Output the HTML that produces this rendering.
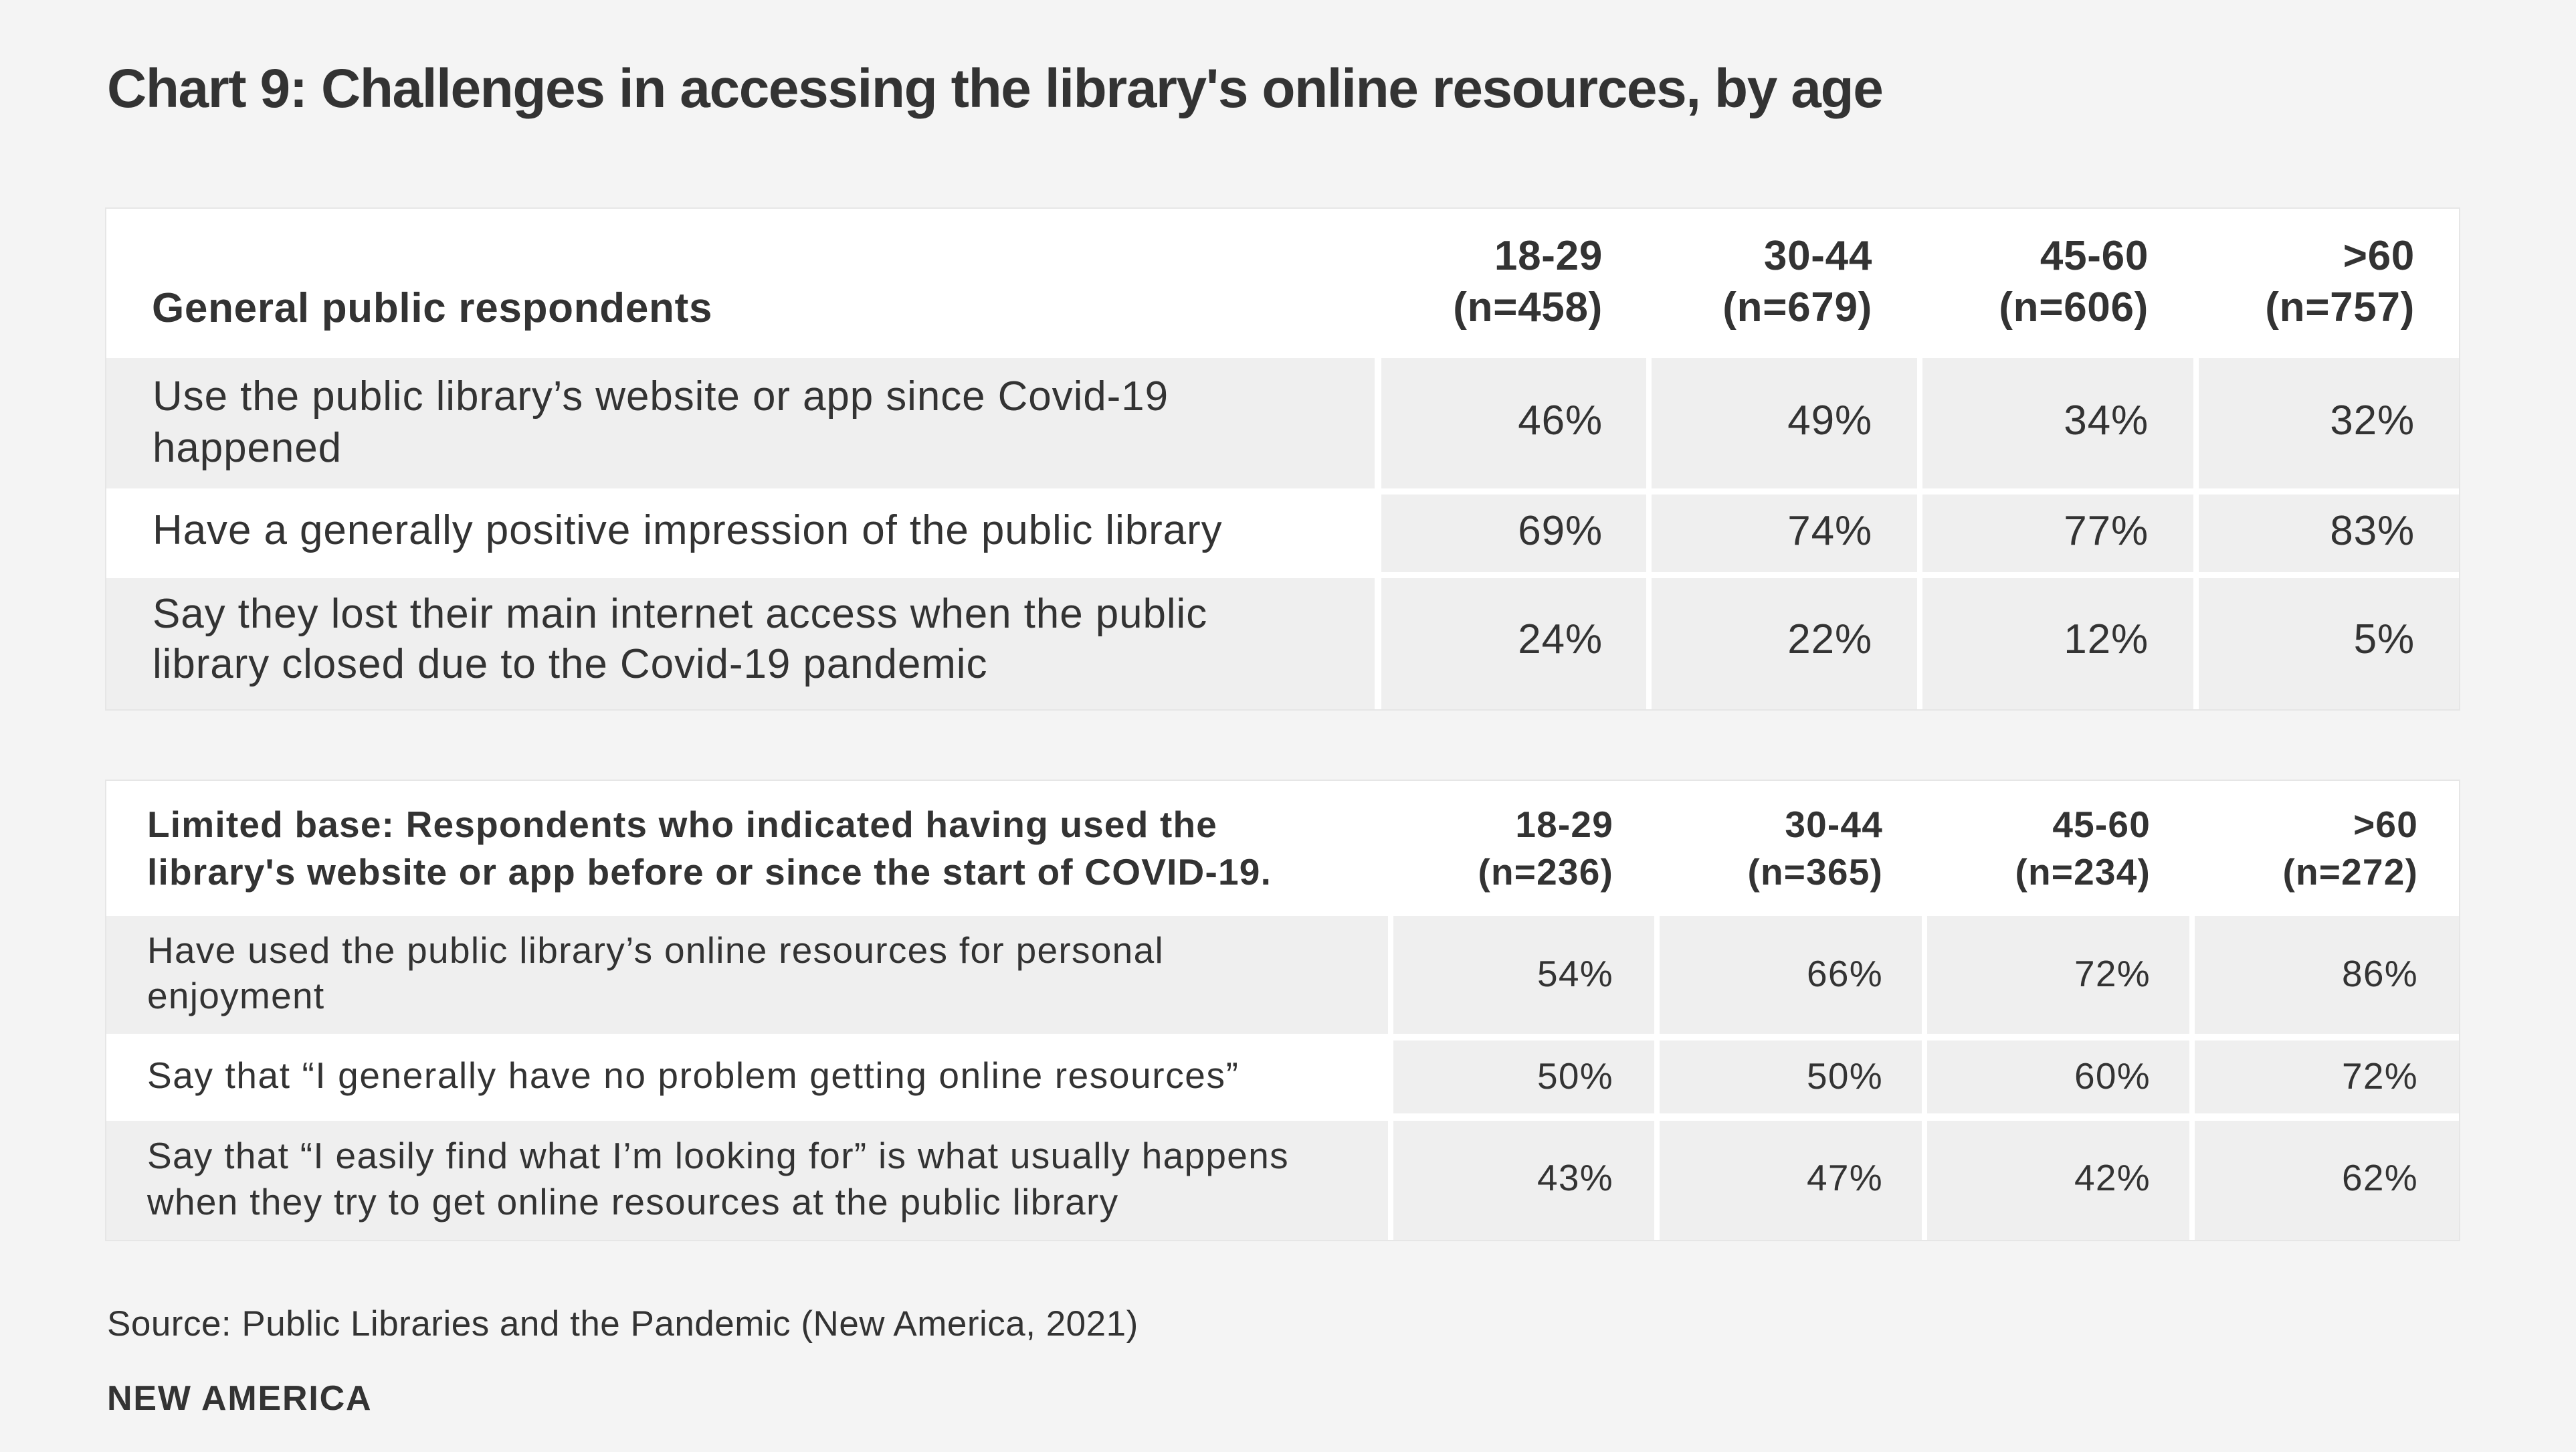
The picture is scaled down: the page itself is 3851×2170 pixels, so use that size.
<!DOCTYPE html>
<html>
<head>
<meta charset="utf-8">
<style>
html,body{margin:0;padding:0;}
body{width:3851px;height:2170px;background:#f4f4f4;position:relative;overflow:hidden;font-family:"Liberation Sans",Arial,sans-serif;color:#333333;}
.a{position:absolute;white-space:nowrap;}
.box{position:absolute;background:#ffffff;box-shadow:0 0 0 2px #e6e6e6;}
.g{position:absolute;background:#efefef;}
.t1{font-size:62px;line-height:77px;letter-spacing:0.9px;}
.t1b{font-size:62px;line-height:77px;font-weight:bold;letter-spacing:0.7px;}
.t2{font-size:55px;line-height:69px;letter-spacing:1.3px;}
.t2b{font-size:55px;line-height:71px;font-weight:bold;letter-spacing:1.2px;}
.r{text-align:right;}
</style>
</head>
<body>
<div class="a" style="left:160px;top:83px;font-size:82px;line-height:100px;font-weight:bold;letter-spacing:-1.4px;">Chart 9: Challenges in accessing the library's online resources, by age</div>

<!-- Table 1 -->
<div class="box" style="left:159px;top:312px;width:3517px;height:748px;"></div>
<div class="g" style="left:159px;top:535px;width:1896px;height:195px;"></div>
<div class="g" style="left:2065px;top:535px;width:396px;height:195px;"></div>
<div class="g" style="left:2469px;top:535px;width:397px;height:195px;"></div>
<div class="g" style="left:2874px;top:535px;width:405px;height:195px;"></div>
<div class="g" style="left:3287px;top:535px;width:389px;height:195px;"></div>
<div class="g" style="left:2065px;top:739px;width:396px;height:116px;"></div>
<div class="g" style="left:2469px;top:739px;width:397px;height:116px;"></div>
<div class="g" style="left:2874px;top:739px;width:405px;height:116px;"></div>
<div class="g" style="left:3287px;top:739px;width:389px;height:116px;"></div>
<div class="g" style="left:159px;top:864px;width:1896px;height:196px;"></div>
<div class="g" style="left:2065px;top:864px;width:396px;height:196px;"></div>
<div class="g" style="left:2469px;top:864px;width:397px;height:196px;"></div>
<div class="g" style="left:2874px;top:864px;width:405px;height:196px;"></div>
<div class="g" style="left:3287px;top:864px;width:389px;height:196px;"></div>

<div class="a t1b" style="left:227px;top:422px;">General public respondents</div>
<div class="a t1b r" style="right:1455px;top:344px;">18-29<br>(n=458)</div>
<div class="a t1b r" style="right:1052px;top:344px;">30-44<br>(n=679)</div>
<div class="a t1b r" style="right:639px;top:344px;">45-60<br>(n=606)</div>
<div class="a t1b r" style="right:241px;top:344px;">&gt;60<br>(n=757)</div>

<div class="a t1" style="left:228px;top:554px;">Use the public library’s website or app since Covid-19<br>happened</div>
<div class="a t1 r" style="right:1455px;top:590px;">46%</div>
<div class="a t1 r" style="right:1052px;top:590px;">49%</div>
<div class="a t1 r" style="right:639px;top:590px;">34%</div>
<div class="a t1 r" style="right:241px;top:590px;">32%</div>

<div class="a t1" style="left:228px;top:754px;">Have a generally positive impression of the public library</div>
<div class="a t1 r" style="right:1455px;top:755px;">69%</div>
<div class="a t1 r" style="right:1052px;top:755px;">74%</div>
<div class="a t1 r" style="right:639px;top:755px;">77%</div>
<div class="a t1 r" style="right:241px;top:755px;">83%</div>

<div class="a t1" style="left:228px;top:880px;line-height:75px;">Say they lost their main internet access when the public<br>library closed due to the Covid-19 pandemic</div>
<div class="a t1 r" style="right:1455px;top:917px;">24%</div>
<div class="a t1 r" style="right:1052px;top:917px;">22%</div>
<div class="a t1 r" style="right:639px;top:917px;">12%</div>
<div class="a t1 r" style="right:241px;top:917px;">5%</div>

<!-- Table 2 -->
<div class="box" style="left:159px;top:1167px;width:3517px;height:686px;"></div>
<div class="g" style="left:159px;top:1369px;width:1916px;height:176px;"></div>
<div class="g" style="left:2083px;top:1369px;width:390px;height:176px;"></div>
<div class="g" style="left:2481px;top:1369px;width:392px;height:176px;"></div>
<div class="g" style="left:2881px;top:1369px;width:392px;height:176px;"></div>
<div class="g" style="left:3281px;top:1369px;width:395px;height:176px;"></div>
<div class="g" style="left:2083px;top:1555px;width:390px;height:109px;"></div>
<div class="g" style="left:2481px;top:1555px;width:392px;height:109px;"></div>
<div class="g" style="left:2881px;top:1555px;width:392px;height:109px;"></div>
<div class="g" style="left:3281px;top:1555px;width:395px;height:109px;"></div>
<div class="g" style="left:159px;top:1675px;width:1916px;height:178px;"></div>
<div class="g" style="left:2083px;top:1675px;width:390px;height:178px;"></div>
<div class="g" style="left:2481px;top:1675px;width:392px;height:178px;"></div>
<div class="g" style="left:2881px;top:1675px;width:392px;height:178px;"></div>
<div class="g" style="left:3281px;top:1675px;width:395px;height:178px;"></div>

<div class="a t2b" style="left:220px;top:1197px;">Limited base: Respondents who indicated having used the<br>library's website or app before or since the start of COVID-19.</div>
<div class="a t2b r" style="right:1439px;top:1197px;">18-29<br>(n=236)</div>
<div class="a t2b r" style="right:1036px;top:1197px;">30-44<br>(n=365)</div>
<div class="a t2b r" style="right:636px;top:1197px;">45-60<br>(n=234)</div>
<div class="a t2b r" style="right:236px;top:1197px;">&gt;60<br>(n=272)</div>

<div class="a t2" style="left:220px;top:1386px;line-height:68px;">Have used the public library’s online resources for personal<br>enjoyment</div>
<div class="a t2 r" style="right:1439px;top:1421px;">54%</div>
<div class="a t2 r" style="right:1036px;top:1421px;">66%</div>
<div class="a t2 r" style="right:636px;top:1421px;">72%</div>
<div class="a t2 r" style="right:236px;top:1421px;">86%</div>

<div class="a t2" style="left:220px;top:1573px;letter-spacing:1.6px;">Say that “I generally have no problem getting online resources”</div>
<div class="a t2 r" style="right:1439px;top:1574px;">50%</div>
<div class="a t2 r" style="right:1036px;top:1574px;">50%</div>
<div class="a t2 r" style="right:636px;top:1574px;">60%</div>
<div class="a t2 r" style="right:236px;top:1574px;">72%</div>

<div class="a t2" style="left:220px;top:1693px;">Say that “I easily find what I’m looking for” is what usually happens<br>when they try to get online resources at the public library</div>
<div class="a t2 r" style="right:1439px;top:1726px;">43%</div>
<div class="a t2 r" style="right:1036px;top:1726px;">47%</div>
<div class="a t2 r" style="right:636px;top:1726px;">42%</div>
<div class="a t2 r" style="right:236px;top:1726px;">62%</div>

<div class="a" style="left:160px;top:1949px;font-size:53px;line-height:60px;letter-spacing:0.5px;">Source: Public Libraries and the Pandemic (New America, 2021)</div>
<div class="a" style="left:160px;top:2060px;font-size:52px;line-height:60px;font-weight:bold;letter-spacing:1.8px;">NEW AMERICA</div>
</body>
</html>
